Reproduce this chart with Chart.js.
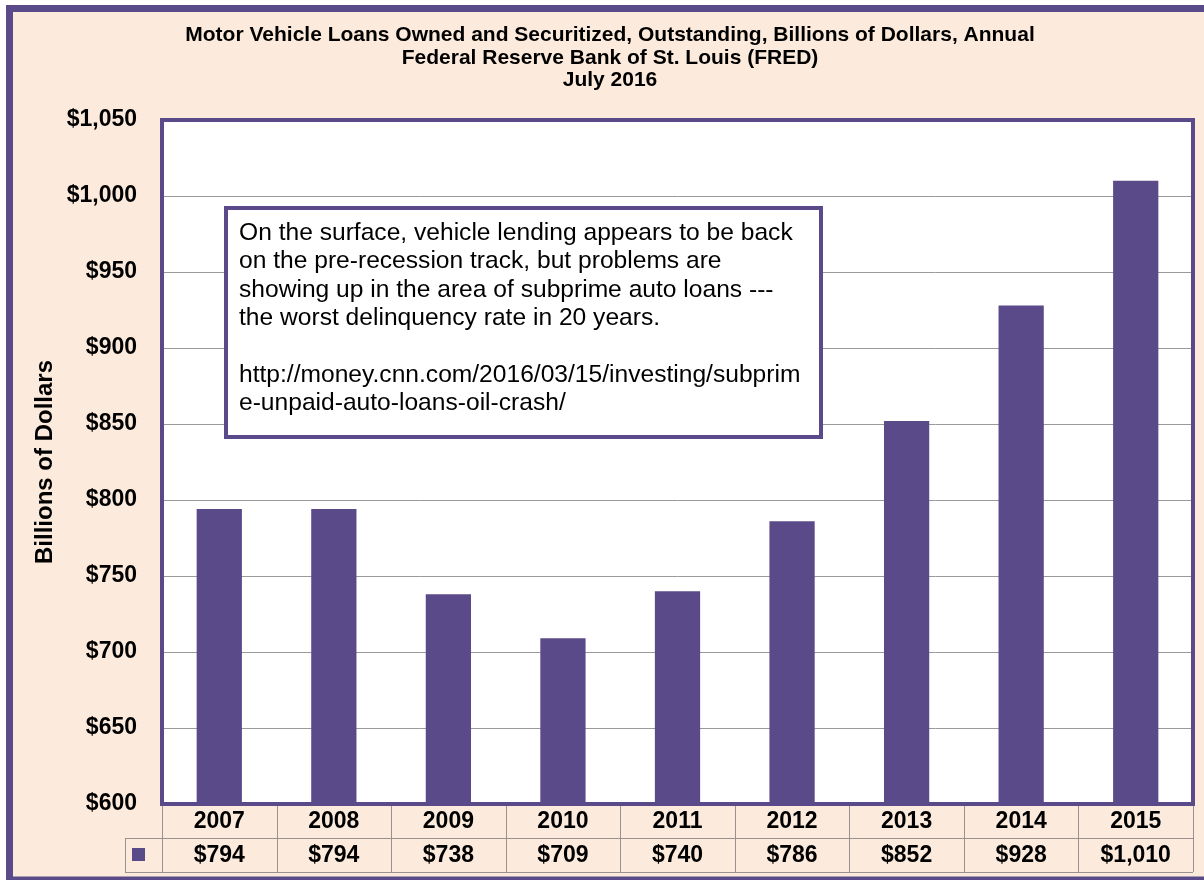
<!DOCTYPE html>
<html>
<head>
<meta charset="utf-8">
<script src="https://cdn.jsdelivr.net/npm/chart.js@4/dist/chart.umd.min.js"></script>
<style>
html,body{margin:0;padding:0;background:#ffffff;}
#wrap{width:1204px;height:880px;position:relative;}
</style>
</head>
<body>
<div id="wrap"><canvas id="c" width="1204" height="880"></canvas></div>
<script>
// ---- data ----
const categories = ['2007','2008','2009','2010','2011','2012','2013','2014','2015'];
const loanValues = [794, 794, 738, 709, 740, 786, 852, 928, 1010];
const valueLabels = ['$794','$794','$738','$709','$740','$786','$852','$928','$1,010'];
const yTickValues = [600, 650, 700, 750, 800, 850, 900, 950, 1000, 1050];
const titleLines = [
  'Motor Vehicle Loans Owned and Securitized, Outstanding, Billions of Dollars, Annual',
  'Federal Reserve Bank of St. Louis (FRED)',
  'July 2016'
];
const yAxisTitle = 'Billions of Dollars';
const noteLines = [
  'On the surface, vehicle lending appears to be back',
  'on the pre-recession track, but problems are',
  'showing up in the area of subprime auto loans ---',
  'the worst delinquency rate in 20 years.',
  '',
  'http://money.cnn.com/2016/03/15/investing/subprim',
  'e-unpaid-auto-loans-oil-crash/'
];

// ---- styles ----
const PURPLE = '#5b4a89';
const PEACH = '#fcebdc';
const FONT = 'Arial, "Liberation Sans", sans-serif';

const decorPlugin = {
  id: 'decor',
  beforeDraw(chart) {
    const ctx = chart.ctx, a = chart.chartArea;
    ctx.save();
    ctx.fillStyle = '#ffffff';
    ctx.fillRect(0, 0, chart.width, chart.height);
    ctx.fillStyle = PEACH;
    ctx.fillRect(9, 8, 1250, 880);
    ctx.strokeStyle = PURPLE;
    ctx.lineWidth = 7;
    ctx.strokeRect(9.5, 8.5, 1250, 871.5);
    ctx.fillStyle = '#ffffff';
    ctx.fillRect(a.left, a.top, a.right - a.left, a.bottom - a.top);
    ctx.restore();
  },
  afterDraw(chart) {
    const ctx = chart.ctx, a = chart.chartArea;
    const xs = chart.scales.x;
    ctx.save();

    // title
    ctx.fillStyle = '#000';
    ctx.textAlign = 'center';
    ctx.textBaseline = 'alphabetic';
    ctx.font = 'bold 21px ' + FONT;
    const tb = [41, 63.5, 86];
    titleLines.forEach((t, i) => ctx.fillText(t, 610, tb[i]));

    // y axis title
    ctx.save();
    ctx.translate(45, (a.top + a.bottom) / 2);
    ctx.rotate(-Math.PI / 2);
    ctx.font = 'bold 24px ' + FONT;
    ctx.textBaseline = 'middle';
    ctx.fillText(yAxisTitle, 0, 0);
    ctx.restore();

    // data table
    const rowTop = a.bottom, rowMid = a.bottom + 34, rowBot = a.bottom + 68;
    const centers = categories.map((c, i) => xs.getPixelForValue(i));
    const bounds = [a.left];
    for (let i = 0; i < centers.length - 1; i++) bounds.push((centers[i] + centers[i + 1]) / 2);
    bounds.push(a.right);
    const legendLeft = 125;
    ctx.strokeStyle = '#9b9090';
    ctx.lineWidth = 1;
    ctx.beginPath();
    bounds.forEach(b => { ctx.moveTo(Math.round(b) + 0.5, rowTop); ctx.lineTo(Math.round(b) + 0.5, rowBot); });
    ctx.moveTo(legendLeft + 0.5, rowMid); ctx.lineTo(legendLeft + 0.5, rowBot);
    ctx.moveTo(legendLeft, rowMid + 0.5); ctx.lineTo(a.right, rowMid + 0.5);
    ctx.moveTo(legendLeft, rowBot + 0.5); ctx.lineTo(a.right, rowBot + 0.5);
    ctx.stroke();
    ctx.fillStyle = PURPLE;
    ctx.fillRect(132, 848, 13, 13);
    ctx.fillStyle = '#000';
    ctx.font = 'bold 23px ' + FONT;
    ctx.textAlign = 'center';
    ctx.textBaseline = 'middle';
    categories.forEach((c, i) => {
      ctx.fillText(c, centers[i], rowTop + 18);
      ctx.fillText(valueLabels[i], centers[i], rowMid + 18);
    });

    // plot border
    ctx.strokeStyle = PURPLE;
    ctx.lineWidth = 4;
    ctx.strokeRect(a.left, a.top, a.right - a.left, a.bottom - a.top);

    // note box
    ctx.fillStyle = '#ffffff';
    ctx.fillRect(226, 208, 595, 229);
    ctx.strokeStyle = PURPLE;
    ctx.lineWidth = 4;
    ctx.strokeRect(226, 208, 595, 229);
    ctx.fillStyle = '#000';
    ctx.font = '24.6px ' + FONT;
    ctx.textAlign = 'left';
    ctx.textBaseline = 'alphabetic';
    noteLines.forEach((t, i) => ctx.fillText(t, 239, 240 + i * 28.4));

    ctx.restore();
  }
};

new Chart(document.getElementById('c'), {
  type: 'bar',
  data: {
    labels: categories,
    datasets: [{
      label: 'Motor Vehicle Loans',
      data: loanValues,
      backgroundColor: PURPLE,
      borderWidth: 0,
      barPercentage: 0.395,
      categoryPercentage: 1.0
    }]
  },
  options: {
    responsive: false,
    animation: false,
    devicePixelRatio: 1,
    layout: { padding: { top: 120, right: 11, bottom: 76, left: 0 } },
    plugins: { legend: { display: false }, title: { display: false }, tooltip: { enabled: false } },
    scales: {
      x: { display: false, offset: true, grid: { display: false } },
      y: {
        min: 600, max: 1050,
        afterFit(s) { s.width = 162; },
        afterBuildTicks(s) { s.ticks = yTickValues.map(v => ({ value: v })); },
        border: { display: false },
        grid: { color: '#9a9a9a', lineWidth: 1, drawTicks: false },
        ticks: {
          padding: 25,
          color: '#000',
          font: { family: FONT, size: 23, weight: 'bold' },
          callback: v => '$' + v.toLocaleString('en-US')
        }
      }
    }
  },
  plugins: [decorPlugin]
});
</script>
</body>
</html>
